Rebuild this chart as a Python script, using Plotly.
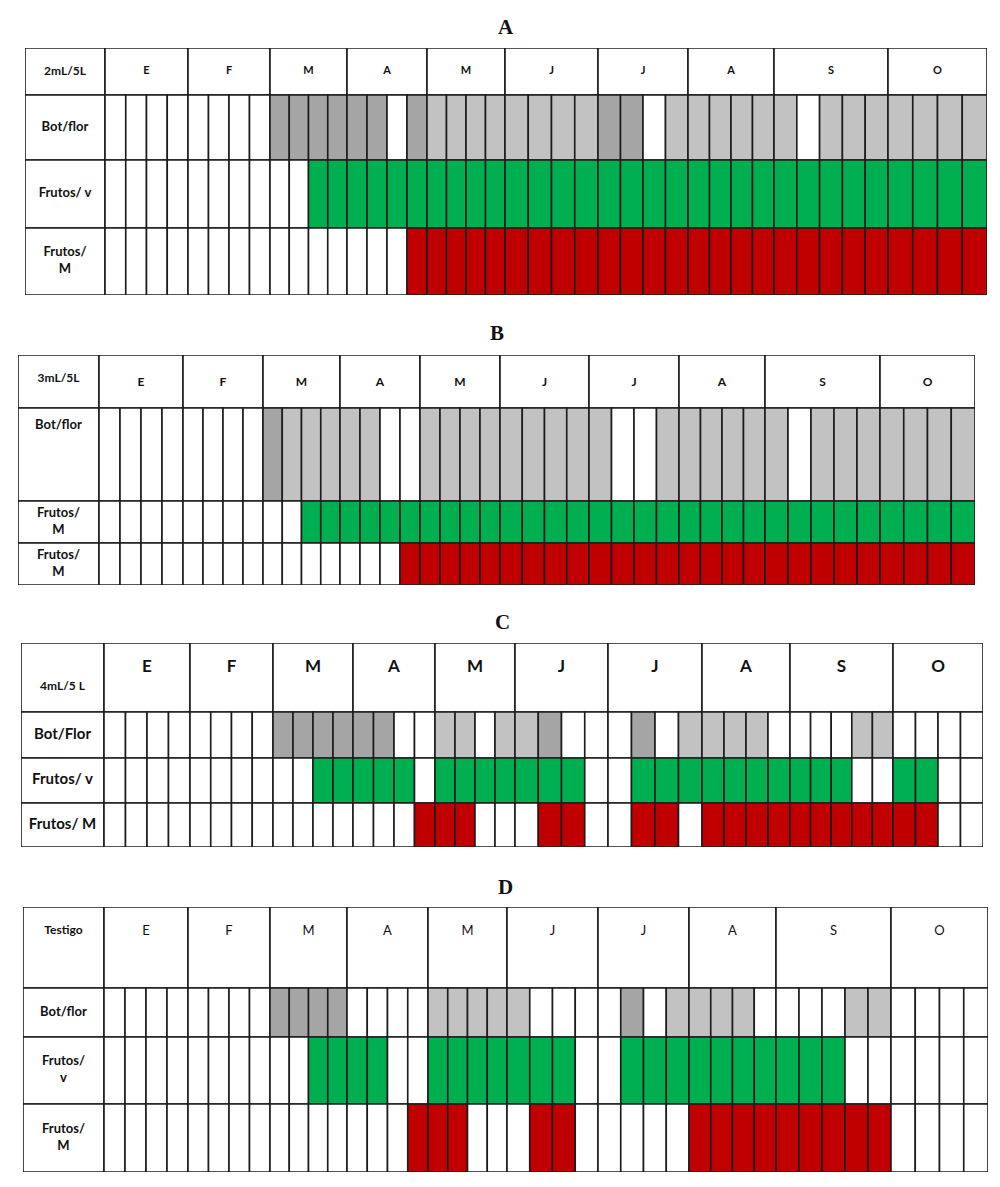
import plotly.graph_objects as go

# ---------------- data ----------------
months = ["E", "F", "M", "A", "M", "J", "J", "A", "S", "O"]
weeks_per_month = [4, 4, 4, 4, 4, 4, 4, 4, 5, 4]

panel_titles = ["A", "B", "C", "D"]
treatments = ["2mL/5L", "3mL/5L", "4mL/5 L", "Testigo"]
row_labels = [
    ["Bot/flor", "Frutos/ v", "Frutos/<br>M"],
    ["Bot/flor", "Frutos/<br>M", "Frutos/<br>M"],
    ["Bot/Flor", "Frutos/ v", "Frutos/ M"],
    ["Bot/flor", "Frutos/<br>v", "Frutos/<br>M"],
]

# weekly state codes: 0 none, 1 buds (dark grey), 2 flowers (light grey), 3 green fruit, 4 ripe fruit
#           E          F          M          A          M          J          J          A          S             O
bot_A  = [0,0,0,0, 0,0,0,0, 1,1,1,1, 1,1,0,1, 2,2,2,2, 2,2,2,2, 1,1,0,2, 2,2,2,2, 2,0,2,2,2, 2,2,2,2]
fruv_A = [0,0,0,0, 0,0,0,0, 0,0,3,3, 3,3,3,3, 3,3,3,3, 3,3,3,3, 3,3,3,3, 3,3,3,3, 3,3,3,3,3, 3,3,3,3]
frum_A = [0,0,0,0, 0,0,0,0, 0,0,0,0, 0,0,0,4, 4,4,4,4, 4,4,4,4, 4,4,4,4, 4,4,4,4, 4,4,4,4,4, 4,4,4,4]

bot_B  = [0,0,0,0, 0,0,0,0, 1,2,2,2, 2,2,0,0, 2,2,2,2, 2,2,2,2, 2,0,0,2, 2,2,2,2, 2,0,2,2,2, 2,2,2,2]
fruv_B = [0,0,0,0, 0,0,0,0, 0,0,3,3, 3,3,3,3, 3,3,3,3, 3,3,3,3, 3,3,3,3, 3,3,3,3, 3,3,3,3,3, 3,3,3,3]
frum_B = [0,0,0,0, 0,0,0,0, 0,0,0,0, 0,0,0,4, 4,4,4,4, 4,4,4,4, 4,4,4,4, 4,4,4,4, 4,4,4,4,4, 4,4,4,4]

bot_C  = [0,0,0,0, 0,0,0,0, 1,1,1,1, 1,1,0,0, 2,2,0,2, 2,1,0,0, 0,1,0,2, 2,2,2,0, 0,0,0,2,2, 0,0,0,0]
fruv_C = [0,0,0,0, 0,0,0,0, 0,0,3,3, 3,3,3,0, 3,3,3,3, 3,3,3,0, 0,3,3,3, 3,3,3,3, 3,3,3,0,0, 3,3,0,0]
frum_C = [0,0,0,0, 0,0,0,0, 0,0,0,0, 0,0,0,4, 4,4,0,0, 0,4,4,0, 0,4,4,0, 4,4,4,4, 4,4,4,4,4, 4,4,0,0]

bot_D  = [0,0,0,0, 0,0,0,0, 1,1,1,1, 0,0,0,0, 2,2,2,2, 2,0,0,0, 0,1,0,2, 2,2,2,0, 0,0,0,2,2, 0,0,0,0]
fruv_D = [0,0,0,0, 0,0,0,0, 0,0,3,3, 3,3,0,0, 3,3,3,3, 3,3,3,0, 0,3,3,3, 3,3,3,3, 3,3,3,0,0, 0,0,0,0]
frum_D = [0,0,0,0, 0,0,0,0, 0,0,0,0, 0,0,0,4, 4,4,0,0, 0,4,4,0, 0,0,0,0, 4,4,4,4, 4,4,4,4,4, 0,0,0,0]

panel_rows = [
    [bot_A, fruv_A, frum_A],
    [bot_B, fruv_B, frum_B],
    [bot_C, fruv_C, frum_C],
    [bot_D, fruv_D, frum_D],
]

# ---------------- styles / layout ----------------
W, H = 1000, 1187
state_colors = {0: "#ffffff", 1: "#a5a5a5", 2: "#c2c2c2", 3: "#00b050", 4: "#c00000"}
LINE = "#1c1c1c"
FONT = "Lato"

# table styling per panel (page pixels): frame left, label column width, month column widths,
# top, row heights (header + 3 rows), text placement
geom = [
    dict(left=25, lab_w=80, month_w=[83, 82, 77, 80, 78, 93, 90, 86, 114, 99],
         top=48, rows=[47, 65, 68, 67], title_y=27,
         head_size=11, head_bold=True, head_pos=0.5, treat_pos=0.5, lab_size=13, top_first=False),
    dict(left=18, lab_w=81, month_w=[84, 80, 77, 80, 80, 89, 90, 86, 115, 95],
         top=355, rows=[53, 93, 42, 42], title_y=333,
         head_size=12, head_bold=True, head_pos=0.52, treat_pos=0.45, lab_size=13, top_first=True),
    dict(left=21, lab_w=83, month_w=[86, 83, 80, 82, 80, 93, 94, 88, 103, 90],
         top=643, rows=[69, 46, 45, 44], title_y=622,
         head_size=17, head_bold=True, head_pos=0.36, treat_pos=0.64, lab_size=15, top_first=False),
    dict(left=23, lab_w=81, month_w=[84, 82, 77, 81, 79, 91, 91, 87, 115, 97],
         top=907, rows=[81, 49, 67, 68], title_y=887,
         head_size=13, head_bold=False, head_pos=0.3, treat_pos=0.3, lab_size=13, top_first=False),
]

fig = go.Figure()
layout_axes = {}
for p in range(4):
    g = geom[p]
    suffix = "" if p == 0 else str(p + 1)
    xa, ya = "x" + suffix, "y" + suffix
    lab_w = g["lab_w"]
    mw = g["month_w"]
    m_start = [sum(mw[:i]) for i in range(len(mw))]
    total_w = sum(mw)
    heights = g["rows"]
    total_h = sum(heights)
    tops = [sum(heights[:i]) for i in range(len(heights))]
    centers = [tops[i] + heights[i] / 2 for i in range(len(heights))]

    # week -> horizontal slot inside its month column
    slot_base, slot_w = [], []
    for m, n in enumerate(weeks_per_month):
        for k in range(n):
            slot_base.append(m_start[m] + k * mw[m] / n)
            slot_w.append(mw[m] / n)

    bx, bbase, by, bw, bc = [], [], [], [], []
    for r in range(4):
        bx.append(lab_w); bbase.append(-lab_w); by.append(centers[r]); bw.append(heights[r]); bc.append("#ffffff")
    for m in range(len(months)):
        bx.append(mw[m]); bbase.append(m_start[m]); by.append(centers[0]); bw.append(heights[0]); bc.append("#ffffff")
    for r, row in enumerate(panel_rows[p]):
        for i, v in enumerate(row):
            bx.append(slot_w[i]); bbase.append(slot_base[i]); by.append(centers[r + 1])
            bw.append(heights[r + 1]); bc.append(state_colors[v])

    fig.add_trace(go.Bar(
        orientation="h", x=bx, base=bbase, y=by, width=bw,
        marker=dict(color=bc, line=dict(color=LINE, width=1.6)),
        xaxis=xa, yaxis=ya, hoverinfo="skip", cliponaxis=False, showlegend=False,
    ))

    hy = tops[0] + heights[0] * g["head_pos"]
    mtext = [("<b>%s</b>" % m) if g["head_bold"] else m for m in months]
    fig.add_trace(go.Scatter(
        x=[m_start[m] + mw[m] / 2 for m in range(len(months))],
        y=[hy] * len(months), text=mtext, mode="text",
        textfont=dict(family=FONT, size=g["head_size"], color="#111"),
        xaxis=xa, yaxis=ya, hoverinfo="skip", cliponaxis=False, showlegend=False,
    ))

    ly = [tops[0] + heights[0] * g["treat_pos"]]
    for r in range(3):
        if r == 0 and g["top_first"]:
            ly.append(tops[1] + 18)
        else:
            ly.append(centers[r + 1])
    ltext = ["<b>%s</b>" % t for t in [treatments[p]] + row_labels[p]]
    sizes = [12] + [g["lab_size"]] * 3
    fig.add_trace(go.Scatter(
        x=[-lab_w / 2] * 4, y=ly, text=ltext, mode="text",
        textfont=dict(family=FONT, size=sizes, color="#111"),
        xaxis=xa, yaxis=ya, hoverinfo="skip", cliponaxis=False, showlegend=False,
    ))

    x0 = g["left"]
    x1 = g["left"] + lab_w + total_w
    dom_x = [x0 / W, x1 / W]
    dom_y = [1 - (g["top"] + total_h) / H, 1 - g["top"] / H]
    layout_axes["xaxis" + suffix] = dict(domain=dom_x, range=[-lab_w, total_w], visible=False,
                                         fixedrange=True, anchor=ya)
    layout_axes["yaxis" + suffix] = dict(domain=dom_y, range=[total_h, 0], visible=False,
                                         fixedrange=True, anchor=xa)

    fig.add_annotation(
        text="<b>%s</b>" % panel_titles[p], xref="paper", yref="paper",
        x=(x0 + x1) / 2 / W, y=1 - g["title_y"] / H,
        showarrow=False, font=dict(family="Liberation Serif", size=21, color="#111"),
        xanchor="center", yanchor="middle",
    )

fig.update_layout(
    width=W, height=H, margin=dict(l=0, r=0, t=0, b=0),
    paper_bgcolor="white", plot_bgcolor="white", barmode="overlay",
    showlegend=False, **layout_axes,
)

fig.write_html("out.html")
